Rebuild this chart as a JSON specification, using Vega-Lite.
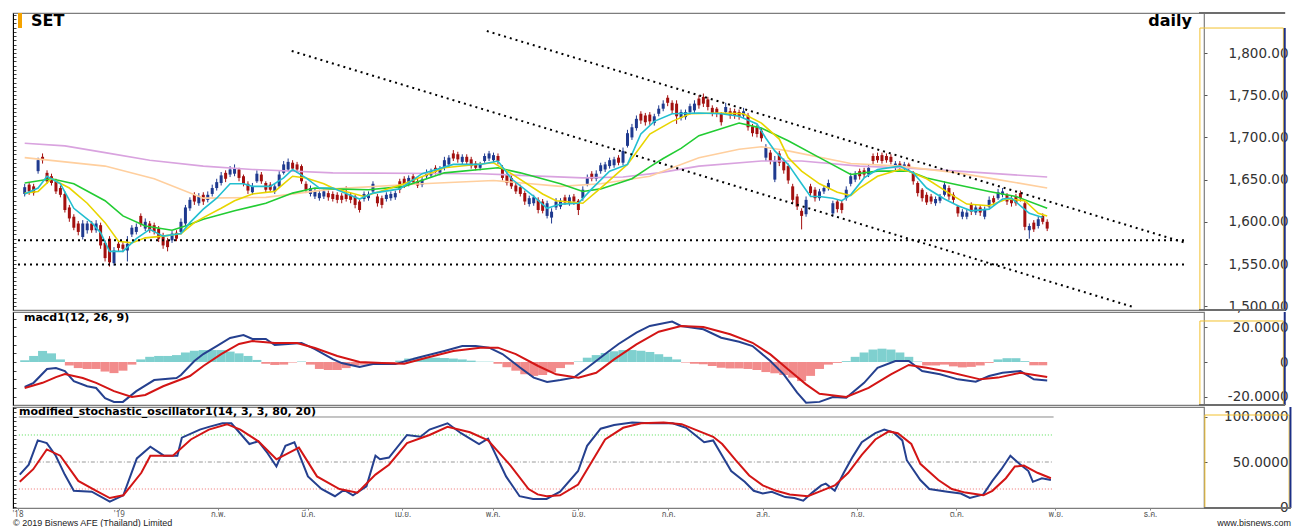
{
"$schema":"https://vega.github.io/schema/vega-lite/v6.json",
"background":"#ffffff",
"padding":{"left":11,"top":11,"right":0,"bottom":0},
"spacing":2,
"bounds":"flush",
"resolve":{"scale":{"color":"independent"}},
"config":{"view":{"stroke":"#7d7d7d","strokeWidth":1.2},"axis":{"grid":false,"labelFont":"DejaVu Sans"}},
"datasets":{
"c":[
{"i":0,"o":1633,"h":1645,"l":1630,"c":1641},{"i":1,"o":1644,"h":1647,"l":1632,"c":1636},{"i":2,"o":1642,"h":1645,"l":1631,"c":1634},{"i":3,"o":1660,"h":1676,"l":1657,"c":1673},{"i":4,"o":1677,"h":1681,"l":1669,"c":1673},{"i":5,"o":1658,"h":1661,"l":1645,"c":1648},{"i":6,"o":1654,"h":1657,"l":1643,"c":1646},{"i":7,"o":1648,"h":1651,"l":1633,"c":1636},{"i":8,"o":1640,"h":1643,"l":1629,"c":1632},{"i":9,"o":1633,"h":1636,"l":1611,"c":1614},
{"i":10,"o":1617,"h":1620,"l":1600,"c":1604},{"i":11,"o":1606,"h":1609,"l":1590,"c":1593},{"i":12,"o":1598,"h":1601,"l":1584,"c":1588},{"i":13,"o":1582,"h":1602,"l":1579,"c":1598},{"i":14,"o":1590,"h":1601,"l":1586,"c":1598},{"i":15,"o":1598,"h":1601,"l":1587,"c":1590},{"i":16,"o":1590,"h":1602,"l":1587,"c":1598},{"i":17,"o":1596,"h":1599,"l":1568,"c":1572},{"i":18,"o":1575,"h":1578,"l":1553,"c":1557},{"i":19,"o":1580,"h":1583,"l":1547,"c":1552},
{"i":20,"o":1551,"h":1570,"l":1548,"c":1566},{"i":21,"o":1574,"h":1577,"l":1565,"c":1569},{"i":22,"o":1573,"h":1576,"l":1564,"c":1568},{"i":23,"o":1566,"h":1583,"l":1553,"c":1574},{"i":24,"o":1585,"h":1596,"l":1582,"c":1593},{"i":25,"o":1588,"h":1598,"l":1585,"c":1594},{"i":26,"o":1607,"h":1610,"l":1594,"c":1597},{"i":27,"o":1592,"h":1604,"l":1589,"c":1600},{"i":28,"o":1598,"h":1601,"l":1587,"c":1590},{"i":29,"o":1596,"h":1599,"l":1585,"c":1588},
{"i":30,"o":1592,"h":1595,"l":1576,"c":1580},{"i":31,"o":1584,"h":1587,"l":1568,"c":1572},{"i":32,"o":1578,"h":1581,"l":1565,"c":1570},{"i":33,"o":1578,"h":1589,"l":1575,"c":1586},{"i":34,"o":1587,"h":1590,"l":1577,"c":1580},{"i":35,"o":1588,"h":1604,"l":1585,"c":1600},{"i":36,"o":1598,"h":1620,"l":1595,"c":1617},{"i":37,"o":1616,"h":1629,"l":1613,"c":1626},{"i":38,"o":1632,"h":1635,"l":1620,"c":1624},{"i":39,"o":1622,"h":1634,"l":1619,"c":1630},
{"i":40,"o":1632,"h":1635,"l":1620,"c":1624},{"i":41,"o":1626,"h":1636,"l":1623,"c":1632},{"i":42,"o":1633,"h":1644,"l":1630,"c":1640},{"i":43,"o":1640,"h":1651,"l":1637,"c":1647},{"i":44,"o":1646,"h":1659,"l":1643,"c":1655},{"i":45,"o":1658,"h":1661,"l":1647,"c":1651},{"i":46,"o":1656,"h":1666,"l":1653,"c":1662},{"i":47,"o":1657,"h":1668,"l":1654,"c":1663},{"i":48,"o":1662,"h":1664,"l":1648,"c":1652},{"i":49,"o":1654,"h":1656,"l":1642,"c":1645},
{"i":50,"o":1645,"h":1648,"l":1633,"c":1637},{"i":51,"o":1635,"h":1646,"l":1632,"c":1642},{"i":52,"o":1648,"h":1661,"l":1646,"c":1657},{"i":53,"o":1656,"h":1659,"l":1645,"c":1648},{"i":54,"o":1646,"h":1648,"l":1635,"c":1638},{"i":55,"o":1644,"h":1647,"l":1635,"c":1638},{"i":56,"o":1636,"h":1645,"l":1633,"c":1642},{"i":57,"o":1642,"h":1660,"l":1640,"c":1656},{"i":58,"o":1658,"h":1672,"l":1656,"c":1668},{"i":59,"o":1662,"h":1675,"l":1660,"c":1671},
{"i":60,"o":1670,"h":1673,"l":1660,"c":1663},{"i":61,"o":1668,"h":1671,"l":1658,"c":1662},{"i":62,"o":1666,"h":1668,"l":1645,"c":1648},{"i":63,"o":1645,"h":1648,"l":1634,"c":1638},{"i":64,"o":1633,"h":1643,"l":1630,"c":1640},{"i":65,"o":1630,"h":1640,"l":1627,"c":1636},{"i":66,"o":1628,"h":1638,"l":1625,"c":1634},{"i":67,"o":1630,"h":1639,"l":1627,"c":1636},{"i":68,"o":1634,"h":1637,"l":1625,"c":1629},{"i":69,"o":1633,"h":1636,"l":1624,"c":1627},
{"i":70,"o":1632,"h":1635,"l":1622,"c":1626},{"i":71,"o":1631,"h":1634,"l":1622,"c":1626},{"i":72,"o":1633,"h":1642,"l":1624,"c":1627},{"i":73,"o":1632,"h":1635,"l":1622,"c":1626},{"i":74,"o":1630,"h":1632,"l":1616,"c":1620},{"i":75,"o":1624,"h":1626,"l":1611,"c":1614},{"i":76,"o":1627,"h":1636,"l":1624,"c":1633},{"i":77,"o":1628,"h":1636,"l":1625,"c":1633},{"i":78,"o":1636,"h":1648,"l":1633,"c":1645},{"i":79,"o":1630,"h":1633,"l":1618,"c":1622},
{"i":80,"o":1628,"h":1631,"l":1616,"c":1620},{"i":81,"o":1627,"h":1635,"l":1624,"c":1632},{"i":82,"o":1628,"h":1636,"l":1625,"c":1633},{"i":83,"o":1629,"h":1637,"l":1626,"c":1634},{"i":84,"o":1648,"h":1651,"l":1634,"c":1638},{"i":85,"o":1651,"h":1654,"l":1640,"c":1643},{"i":86,"o":1645,"h":1655,"l":1642,"c":1652},{"i":87,"o":1654,"h":1657,"l":1644,"c":1647},{"i":88,"o":1648,"h":1651,"l":1640,"c":1643},{"i":89,"o":1644,"h":1653,"l":1641,"c":1650},
{"i":90,"o":1654,"h":1662,"l":1651,"c":1659},{"i":91,"o":1655,"h":1663,"l":1652,"c":1660},{"i":92,"o":1664,"h":1667,"l":1656,"c":1659},{"i":93,"o":1658,"h":1666,"l":1655,"c":1663},{"i":94,"o":1664,"h":1677,"l":1661,"c":1673},{"i":95,"o":1668,"h":1679,"l":1665,"c":1676},{"i":96,"o":1681,"h":1685,"l":1672,"c":1675},{"i":97,"o":1680,"h":1683,"l":1670,"c":1674},{"i":98,"o":1671,"h":1680,"l":1668,"c":1677},{"i":99,"o":1677,"h":1680,"l":1668,"c":1671},
{"i":100,"o":1674,"h":1677,"l":1663,"c":1666},{"i":101,"o":1669,"h":1672,"l":1661,"c":1664},{"i":102,"o":1664,"h":1671,"l":1661,"c":1668},{"i":103,"o":1672,"h":1681,"l":1670,"c":1678},{"i":104,"o":1675,"h":1684,"l":1672,"c":1681},{"i":105,"o":1673,"h":1682,"l":1670,"c":1679},{"i":106,"o":1678,"h":1681,"l":1668,"c":1672},{"i":107,"o":1664,"h":1667,"l":1649,"c":1652},{"i":108,"o":1656,"h":1659,"l":1643,"c":1646},{"i":109,"o":1652,"h":1655,"l":1639,"c":1642},
{"i":110,"o":1643,"h":1646,"l":1633,"c":1636},{"i":111,"o":1641,"h":1644,"l":1630,"c":1633},{"i":112,"o":1634,"h":1637,"l":1620,"c":1624},{"i":113,"o":1621,"h":1631,"l":1618,"c":1628},{"i":114,"o":1622,"h":1632,"l":1619,"c":1629},{"i":115,"o":1626,"h":1629,"l":1610,"c":1614},{"i":116,"o":1624,"h":1627,"l":1610,"c":1613},{"i":117,"o":1607,"h":1625,"l":1604,"c":1622},{"i":118,"o":1605,"h":1616,"l":1598,"c":1612},{"i":119,"o":1617,"h":1628,"l":1614,"c":1624},
{"i":120,"o":1618,"h":1628,"l":1615,"c":1625},{"i":121,"o":1629,"h":1632,"l":1620,"c":1623},{"i":122,"o":1622,"h":1632,"l":1619,"c":1629},{"i":123,"o":1630,"h":1633,"l":1620,"c":1624},{"i":124,"o":1625,"h":1627,"l":1608,"c":1614},{"i":125,"o":1628,"h":1642,"l":1625,"c":1638},{"i":126,"o":1645,"h":1656,"l":1642,"c":1652},{"i":127,"o":1657,"h":1660,"l":1648,"c":1651},{"i":128,"o":1651,"h":1661,"l":1648,"c":1657},{"i":129,"o":1660,"h":1670,"l":1657,"c":1667},
{"i":130,"o":1662,"h":1671,"l":1659,"c":1668},{"i":131,"o":1666,"h":1676,"l":1663,"c":1673},{"i":132,"o":1667,"h":1677,"l":1664,"c":1674},{"i":133,"o":1676,"h":1679,"l":1667,"c":1670},{"i":134,"o":1670,"h":1688,"l":1667,"c":1684},{"i":135,"o":1690,"h":1709,"l":1688,"c":1705},{"i":136,"o":1700,"h":1716,"l":1697,"c":1712},{"i":137,"o":1711,"h":1726,"l":1708,"c":1722},{"i":138,"o":1728,"h":1731,"l":1716,"c":1720},{"i":139,"o":1726,"h":1729,"l":1714,"c":1718},
{"i":140,"o":1727,"h":1730,"l":1715,"c":1719},{"i":141,"o":1717,"h":1728,"l":1714,"c":1725},{"i":142,"o":1728,"h":1738,"l":1725,"c":1734},{"i":143,"o":1734,"h":1744,"l":1731,"c":1740},{"i":144,"o":1747,"h":1750,"l":1737,"c":1741},{"i":145,"o":1741,"h":1744,"l":1728,"c":1732},{"i":146,"o":1740,"h":1744,"l":1716,"c":1725},{"i":147,"o":1723,"h":1733,"l":1720,"c":1730},{"i":148,"o":1724,"h":1733,"l":1721,"c":1730},{"i":149,"o":1730,"h":1740,"l":1727,"c":1737},
{"i":150,"o":1732,"h":1744,"l":1729,"c":1740},{"i":151,"o":1746,"h":1750,"l":1734,"c":1738},{"i":152,"o":1748,"h":1752,"l":1736,"c":1740},{"i":153,"o":1745,"h":1748,"l":1732,"c":1736},{"i":154,"o":1735,"h":1738,"l":1725,"c":1729},{"i":155,"o":1734,"h":1736,"l":1724,"c":1728},{"i":156,"o":1728,"h":1730,"l":1714,"c":1718},{"i":157,"o":1730,"h":1741,"l":1727,"c":1736},{"i":158,"o":1731,"h":1735,"l":1722,"c":1726},{"i":159,"o":1731,"h":1734,"l":1722,"c":1726},
{"i":160,"o":1730,"h":1733,"l":1721,"c":1725},{"i":161,"o":1726,"h":1735,"l":1722,"c":1731},{"i":162,"o":1726,"h":1729,"l":1708,"c":1712},{"i":163,"o":1713,"h":1716,"l":1701,"c":1705},{"i":164,"o":1712,"h":1715,"l":1700,"c":1704},{"i":165,"o":1708,"h":1711,"l":1695,"c":1699},{"i":166,"o":1676,"h":1692,"l":1672,"c":1688},{"i":167,"o":1682,"h":1685,"l":1668,"c":1672},{"i":168,"o":1650,"h":1678,"l":1647,"c":1672},{"i":169,"o":1681,"h":1684,"l":1666,"c":1670},
{"i":170,"o":1672,"h":1675,"l":1657,"c":1661},{"i":171,"o":1666,"h":1669,"l":1645,"c":1649},{"i":172,"o":1642,"h":1645,"l":1622,"c":1626},{"i":173,"o":1630,"h":1633,"l":1614,"c":1618},{"i":174,"o":1613,"h":1616,"l":1591,"c":1607},{"i":175,"o":1609,"h":1630,"l":1606,"c":1626},{"i":176,"o":1642,"h":1645,"l":1630,"c":1634},{"i":177,"o":1638,"h":1641,"l":1624,"c":1628},{"i":178,"o":1628,"h":1639,"l":1625,"c":1636},{"i":179,"o":1636,"h":1643,"l":1633,"c":1640},
{"i":180,"o":1640,"h":1650,"l":1637,"c":1646},{"i":181,"o":1610,"h":1625,"l":1606,"c":1622},{"i":182,"o":1624,"h":1627,"l":1611,"c":1615},{"i":183,"o":1622,"h":1625,"l":1610,"c":1614},{"i":184,"o":1628,"h":1642,"l":1625,"c":1638},{"i":185,"o":1645,"h":1658,"l":1642,"c":1654},{"i":186,"o":1650,"h":1660,"l":1647,"c":1656},{"i":187,"o":1660,"h":1663,"l":1650,"c":1654},{"i":188,"o":1661,"h":1664,"l":1652,"c":1656},{"i":189,"o":1656,"h":1668,"l":1653,"c":1664},
{"i":190,"o":1678,"h":1681,"l":1668,"c":1672},{"i":191,"o":1678,"h":1682,"l":1670,"c":1673},{"i":192,"o":1679,"h":1682,"l":1669,"c":1672},{"i":193,"o":1678,"h":1681,"l":1670,"c":1673},{"i":194,"o":1677,"h":1680,"l":1668,"c":1671},{"i":195,"o":1664,"h":1672,"l":1661,"c":1669},{"i":196,"o":1669,"h":1672,"l":1661,"c":1664},{"i":197,"o":1664,"h":1671,"l":1661,"c":1668},{"i":198,"o":1668,"h":1670,"l":1660,"c":1664},{"i":199,"o":1658,"h":1660,"l":1644,"c":1648},
{"i":200,"o":1646,"h":1648,"l":1630,"c":1634},{"i":201,"o":1638,"h":1640,"l":1624,"c":1628},{"i":202,"o":1632,"h":1635,"l":1620,"c":1623},{"i":203,"o":1630,"h":1633,"l":1621,"c":1624},{"i":204,"o":1622,"h":1630,"l":1619,"c":1627},{"i":205,"o":1625,"h":1633,"l":1622,"c":1630},{"i":206,"o":1632,"h":1648,"l":1630,"c":1644},{"i":207,"o":1640,"h":1643,"l":1626,"c":1630},{"i":208,"o":1632,"h":1635,"l":1622,"c":1626},{"i":209,"o":1618,"h":1620,"l":1606,"c":1610},
{"i":210,"o":1606,"h":1615,"l":1603,"c":1612},{"i":211,"o":1606,"h":1614,"l":1603,"c":1611},{"i":212,"o":1620,"h":1623,"l":1608,"c":1612},{"i":213,"o":1611,"h":1620,"l":1608,"c":1617},{"i":214,"o":1617,"h":1620,"l":1607,"c":1611},{"i":215,"o":1606,"h":1618,"l":1603,"c":1614},{"i":216,"o":1618,"h":1630,"l":1616,"c":1626},{"i":217,"o":1628,"h":1631,"l":1620,"c":1623},{"i":218,"o":1628,"h":1639,"l":1626,"c":1635},{"i":219,"o":1632,"h":1640,"l":1629,"c":1636},
{"i":220,"o":1632,"h":1634,"l":1620,"c":1624},{"i":221,"o":1628,"h":1631,"l":1618,"c":1622},{"i":222,"o":1630,"h":1633,"l":1619,"c":1622},{"i":223,"o":1634,"h":1637,"l":1624,"c":1628},{"i":224,"o":1622,"h":1625,"l":1590,"c":1594},{"i":225,"o":1590,"h":1598,"l":1580,"c":1595},{"i":226,"o":1599,"h":1602,"l":1588,"c":1591},{"i":227,"o":1595,"h":1606,"l":1592,"c":1603},{"i":228,"o":1607,"h":1610,"l":1597,"c":1600},{"i":229,"o":1600,"h":1603,"l":1589,"c":1592}
],
"ma":[
{"s":"p","i":0,"v":1693},{"s":"p","i":9,"v":1690},{"s":"p","i":18,"v":1682},{"s":"p","i":28,"v":1673},{"s":"p","i":40,"v":1666},{"s":"p","i":51,"v":1662},{"s":"p","i":69,"v":1658},{"s":"p","i":102,"v":1657},{"s":"p","i":125,"v":1652},{"s":"p","i":134,"v":1653},{"s":"p","i":142,"v":1658},{"s":"p","i":151,"v":1666},{"s":"p","i":165,"v":1672},{"s":"p","i":174,"v":1672},{"s":"p","i":187,"v":1666},{"s":"p","i":196,"v":1664},{"s":"p","i":209,"v":1660},{"s":"p","i":229,"v":1653},
{"s":"o","i":0,"v":1676},{"s":"o","i":18,"v":1666},{"s":"o","i":29,"v":1651},{"s":"o","i":40,"v":1628},{"s":"o","i":54,"v":1629},{"s":"o","i":69,"v":1639},{"s":"o","i":89,"v":1645},{"s":"o","i":105,"v":1649},{"s":"o","i":120,"v":1642},{"s":"o","i":129,"v":1645},{"s":"o","i":140,"v":1654},{"s":"o","i":151,"v":1676},{"s":"o","i":160,"v":1686},{"s":"o","i":165,"v":1689},{"s":"o","i":171,"v":1684},{"s":"o","i":185,"v":1669},{"s":"o","i":196,"v":1666},{"s":"o","i":209,"v":1658},{"s":"o","i":218,"v":1650},{"s":"o","i":229,"v":1640},
{"s":"g","i":0,"v":1646},{"s":"g","i":6,"v":1651},{"s":"g","i":11,"v":1645},{"s":"g","i":18,"v":1625},{"s":"g","i":22,"v":1607},{"s":"g","i":27,"v":1595},{"s":"g","i":33,"v":1590},{"s":"g","i":36,"v":1595},{"s":"g","i":40,"v":1603},{"s":"g","i":47,"v":1613},{"s":"g","i":54,"v":1622},{"s":"g","i":60,"v":1634},{"s":"g","i":65,"v":1640},{"s":"g","i":69,"v":1639},{"s":"g","i":77,"v":1638},{"s":"g","i":85,"v":1642},{"s":"g","i":94,"v":1658},{"s":"g","i":106,"v":1664},{"s":"g","i":111,"v":1658},{"s":"g","i":120,"v":1645},{"s":"g","i":125,"v":1636},{"s":"g","i":129,"v":1639},{"s":"g","i":136,"v":1651},{"s":"g","i":140,"v":1665},{"s":"g","i":143,"v":1675},{"s":"g","i":147,"v":1687},{"s":"g","i":151,"v":1702},{"s":"g","i":160,"v":1717},{"s":"g","i":165,"v":1711},{"s":"g","i":171,"v":1696},{"s":"g","i":178,"v":1676},{"s":"g","i":185,"v":1656},{"s":"g","i":191,"v":1660},{"s":"g","i":198,"v":1660},{"s":"g","i":202,"v":1652},{"s":"g","i":207,"v":1646},{"s":"g","i":216,"v":1636},{"s":"g","i":222,"v":1630},{"s":"g","i":229,"v":1616},
{"s":"y","i":0,"v":1634},{"s":"y","i":3,"v":1636},{"s":"y","i":6,"v":1651},{"s":"y","i":10,"v":1640},{"s":"y","i":14,"v":1622},{"s":"y","i":18,"v":1599},{"s":"y","i":21,"v":1577},{"s":"y","i":24,"v":1575},{"s":"y","i":27,"v":1581},{"s":"y","i":31,"v":1583},{"s":"y","i":35,"v":1586},{"s":"y","i":38,"v":1599},{"s":"y","i":40,"v":1605},{"s":"y","i":44,"v":1616},{"s":"y","i":47,"v":1625},{"s":"y","i":51,"v":1633},{"s":"y","i":56,"v":1636},{"s":"y","i":60,"v":1654},{"s":"y","i":63,"v":1652},{"s":"y","i":67,"v":1645},{"s":"y","i":69,"v":1640},{"s":"y","i":76,"v":1630},{"s":"y","i":85,"v":1645},{"s":"y","i":94,"v":1664},{"s":"y","i":105,"v":1670},{"s":"y","i":109,"v":1657},{"s":"y","i":116,"v":1633},{"s":"y","i":119,"v":1625},{"s":"y","i":125,"v":1622},{"s":"y","i":129,"v":1640},{"s":"y","i":135,"v":1668},{"s":"y","i":140,"v":1704},{"s":"y","i":145,"v":1719},{"s":"y","i":149,"v":1728},{"s":"y","i":156,"v":1729},{"s":"y","i":161,"v":1728},{"s":"y","i":165,"v":1717},{"s":"y","i":169,"v":1698},{"s":"y","i":171,"v":1676},{"s":"y","i":174,"v":1660},{"s":"y","i":178,"v":1645},{"s":"y","i":182,"v":1635},{"s":"y","i":185,"v":1631},{"s":"y","i":187,"v":1640},{"s":"y","i":191,"v":1654},{"s":"y","i":196,"v":1662},{"s":"y","i":198,"v":1660},{"s":"y","i":202,"v":1651},{"s":"y","i":207,"v":1634},{"s":"y","i":211,"v":1621},{"s":"y","i":216,"v":1619},{"s":"y","i":220,"v":1627},{"s":"y","i":224,"v":1625},{"s":"y","i":227,"v":1610},{"s":"y","i":229,"v":1607},
{"s":"c","i":0,"v":1633},{"s":"c","i":3,"v":1640},{"s":"c","i":5,"v":1654},{"s":"c","i":8,"v":1645},{"s":"c","i":11,"v":1616},{"s":"c","i":15,"v":1599},{"s":"c","i":17,"v":1587},{"s":"c","i":19,"v":1565},{"s":"c","i":22,"v":1565},{"s":"c","i":25,"v":1580},{"s":"c","i":28,"v":1591},{"s":"c","i":31,"v":1583},{"s":"c","i":35,"v":1586},{"s":"c","i":37,"v":1599},{"s":"c","i":40,"v":1615},{"s":"c","i":43,"v":1628},{"s":"c","i":46,"v":1645},{"s":"c","i":49,"v":1645},{"s":"c","i":51,"v":1642},{"s":"c","i":55,"v":1642},{"s":"c","i":58,"v":1652},{"s":"c","i":60,"v":1662},{"s":"c","i":63,"v":1652},{"s":"c","i":66,"v":1640},{"s":"c","i":69,"v":1640},{"s":"c","i":75,"v":1627},{"s":"c","i":78,"v":1634},{"s":"c","i":84,"v":1639},{"s":"c","i":89,"v":1657},{"s":"c","i":96,"v":1668},{"s":"c","i":102,"v":1668},{"s":"c","i":106,"v":1672},{"s":"c","i":109,"v":1651},{"s":"c","i":114,"v":1630},{"s":"c","i":117,"v":1616},{"s":"c","i":120,"v":1621},{"s":"c","i":124,"v":1622},{"s":"c","i":127,"v":1639},{"s":"c","i":131,"v":1660},{"s":"c","i":135,"v":1668},{"s":"c","i":138,"v":1704},{"s":"c","i":141,"v":1719},{"s":"c","i":145,"v":1728},{"s":"c","i":151,"v":1729},{"s":"c","i":156,"v":1728},{"s":"c","i":160,"v":1725},{"s":"c","i":164,"v":1716},{"s":"c","i":166,"v":1699},{"s":"c","i":168,"v":1684},{"s":"c","i":171,"v":1668},{"s":"c","i":174,"v":1645},{"s":"c","i":176,"v":1630},{"s":"c","i":178,"v":1630},{"s":"c","i":181,"v":1628},{"s":"c","i":183,"v":1625},{"s":"c","i":185,"v":1632},{"s":"c","i":188,"v":1652},{"s":"c","i":191,"v":1662},{"s":"c","i":196,"v":1666},{"s":"c","i":199,"v":1658},{"s":"c","i":202,"v":1640},{"s":"c","i":206,"v":1627},{"s":"c","i":209,"v":1619},{"s":"c","i":212,"v":1613},{"s":"c","i":216,"v":1615},{"s":"c","i":219,"v":1627},{"s":"c","i":221,"v":1628},{"s":"c","i":225,"v":1610},{"s":"c","i":228,"v":1605}
],
"mc":[
{"s":"m","i":0,"v":-14.4},{"s":"m","i":2,"v":-12},{"s":"m","i":5,"v":-4},{"s":"m","i":7,"v":-3.5},{"s":"m","i":9,"v":-5.2},{"s":"m","i":11,"v":-11},{"s":"m","i":14,"v":-14},{"s":"m","i":16,"v":-15},{"s":"m","i":18,"v":-20.8},{"s":"m","i":20,"v":-23},{"s":"m","i":22,"v":-23},{"s":"m","i":25,"v":-16.8},{"s":"m","i":29,"v":-10.4},{"s":"m","i":34,"v":-9.2},{"s":"m","i":35,"v":-7.5},{"s":"m","i":38,"v":0.6},{"s":"m","i":40,"v":4.6},{"s":"m","i":43,"v":9.2},{"s":"m","i":46,"v":13.9},{"s":"m","i":49,"v":15.6},{"s":"m","i":51,"v":13.3},{"s":"m","i":54,"v":13.3},{"s":"m","i":56,"v":9.8},{"s":"m","i":59,"v":10.4},{"s":"m","i":62,"v":11},{"s":"m","i":65,"v":7.5},{"s":"m","i":69,"v":1.7},{"s":"m","i":71,"v":-0.6},{"s":"m","i":75,"v":-2.9},{"s":"m","i":78,"v":-1.2},{"s":"m","i":83,"v":-1.2},{"s":"m","i":88,"v":2.5},{"s":"m","i":94,"v":6.4},{"s":"m","i":98,"v":9.2},{"s":"m","i":101,"v":9.2},{"s":"m","i":104,"v":8.3},{"s":"m","i":107,"v":4.6},{"s":"m","i":111,"v":-3.3},{"s":"m","i":114,"v":-9},{"s":"m","i":117,"v":-11.5},{"s":"m","i":120,"v":-10.4},{"s":"m","i":123,"v":-9},{"s":"m","i":126,"v":-3.3},{"s":"m","i":130,"v":4.6},{"s":"m","i":133,"v":10.4},{"s":"m","i":137,"v":17},{"s":"m","i":140,"v":20.8},{"s":"m","i":145,"v":23.3},{"s":"m","i":147,"v":20.8},{"s":"m","i":152,"v":18.9},{"s":"m","i":156,"v":14},{"s":"m","i":160,"v":11.7},{"s":"m","i":163,"v":9.2},{"s":"m","i":167,"v":0.6},{"s":"m","i":170,"v":-7.1},{"s":"m","i":173,"v":-17.7},{"s":"m","i":175,"v":-23.5},{"s":"m","i":178,"v":-23},{"s":"m","i":181,"v":-20.2},{"s":"m","i":184,"v":-20.6},{"s":"m","i":188,"v":-12},{"s":"m","i":191,"v":-3.3},{"s":"m","i":195,"v":0.6},{"s":"m","i":198,"v":0.6},{"s":"m","i":201,"v":-5.2},{"s":"m","i":205,"v":-7.1},{"s":"m","i":209,"v":-10},{"s":"m","i":213,"v":-11.4},{"s":"m","i":216,"v":-8.1},{"s":"m","i":219,"v":-6.2},{"s":"m","i":223,"v":-5.2},{"s":"m","i":226,"v":-10},{"s":"m","i":229,"v":-10.6},
{"s":"sg","i":0,"v":-15},{"s":"sg","i":4,"v":-12},{"s":"sg","i":7,"v":-8.7},{"s":"sg","i":9,"v":-6.9},{"s":"sg","i":13,"v":-9.2},{"s":"sg","i":16,"v":-12},{"s":"sg","i":20,"v":-16.8},{"s":"sg","i":24,"v":-20.2},{"s":"sg","i":27,"v":-19},{"s":"sg","i":31,"v":-14},{"s":"sg","i":37,"v":-8.1},{"s":"sg","i":40,"v":-2.3},{"s":"sg","i":44,"v":4.6},{"s":"sg","i":48,"v":10.4},{"s":"sg","i":51,"v":12.1},{"s":"sg","i":56,"v":11},{"s":"sg","i":61,"v":11},{"s":"sg","i":65,"v":8.1},{"s":"sg","i":70,"v":3.5},{"s":"sg","i":75,"v":0},{"s":"sg","i":80,"v":-0.6},{"s":"sg","i":85,"v":-1},{"s":"sg","i":90,"v":2.5},{"s":"sg","i":96,"v":6.4},{"s":"sg","i":102,"v":8.3},{"s":"sg","i":106,"v":8.3},{"s":"sg","i":110,"v":4.6},{"s":"sg","i":115,"v":-2.3},{"s":"sg","i":119,"v":-7.1},{"s":"sg","i":124,"v":-9},{"s":"sg","i":128,"v":-6.2},{"s":"sg","i":132,"v":1.5},{"s":"sg","i":137,"v":10.2},{"s":"sg","i":142,"v":17.5},{"s":"sg","i":147,"v":20.8},{"s":"sg","i":152,"v":20.2},{"s":"sg","i":158,"v":16},{"s":"sg","i":163,"v":11.1},{"s":"sg","i":167,"v":4.4},{"s":"sg","i":171,"v":-4.3},{"s":"sg","i":175,"v":-12.9},{"s":"sg","i":178,"v":-18.3},{"s":"sg","i":184,"v":-20.2},{"s":"sg","i":189,"v":-14.9},{"s":"sg","i":194,"v":-7.1},{"s":"sg","i":198,"v":-1.7},{"s":"sg","i":202,"v":-3.3},{"s":"sg","i":207,"v":-5.8},{"s":"sg","i":214,"v":-10},{"s":"sg","i":218,"v":-9},{"s":"sg","i":223,"v":-6.2},{"s":"sg","i":229,"v":-8.7}
],
"hs":[
{"i":0,"h":1},{"i":2,"h":3.5},{"i":4,"h":6.4},{"i":6,"h":5},{"i":8,"h":1.5},{"i":10,"h":-2},{"i":12,"h":-3.5},{"i":14,"h":-4},{"i":16,"h":-4},{"i":18,"h":-5.5},{"i":20,"h":-6.4},{"i":22,"h":-5},{"i":24,"h":-1.5},{"i":26,"h":1.5},{"i":28,"h":3},{"i":30,"h":3.5},{"i":32,"h":3.5},{"i":34,"h":4},{"i":36,"h":5.5},{"i":38,"h":6.5},{"i":40,"h":6.9},{"i":42,"h":6.9},{"i":44,"h":6.9},{"i":46,"h":6},{"i":48,"h":5},{"i":50,"h":3.5},{"i":52,"h":1.2},{"i":54,"h":-1},{"i":56,"h":-1.7},{"i":58,"h":-1.5},{"i":60,"h":-0.3},{"i":62,"h":0.3},{"i":64,"h":-1.5},{"i":66,"h":-4},{"i":68,"h":-4.6},{"i":70,"h":-4.6},{"i":72,"h":-3.5},{"i":74,"h":-2},{"i":76,"h":-1.5},{"i":78,"h":-1.2},{"i":80,"h":-1},{"i":82,"h":-0.8},{"i":84,"h":0.8},{"i":86,"h":2},{"i":88,"h":2.5},{"i":90,"h":2.5},{"i":92,"h":2.5},{"i":94,"h":2.3},{"i":96,"h":2},{"i":98,"h":1.5},{"i":100,"h":0.8},{"i":102,"h":0.2},{"i":104,"h":0.2},{"i":106,"h":-1},{"i":108,"h":-3},{"i":110,"h":-5},{"i":112,"h":-7},{"i":114,"h":-8},{"i":116,"h":-7.5},{"i":118,"h":-6},{"i":120,"h":-3.5},{"i":122,"h":-1.5},{"i":124,"h":0.3},{"i":126,"h":2.5},{"i":128,"h":4},{"i":130,"h":5.2},{"i":132,"h":6.2},{"i":134,"h":6.9},{"i":136,"h":6.9},{"i":138,"h":6.5},{"i":140,"h":5.8},{"i":142,"h":4.5},{"i":144,"h":3},{"i":146,"h":1.5},{"i":148,"h":-0.3},{"i":150,"h":-1},{"i":152,"h":-1.3},{"i":154,"h":-2.3},{"i":156,"h":-3.3},{"i":158,"h":-3.7},{"i":160,"h":-3.7},{"i":162,"h":-4},{"i":164,"h":-4.6},{"i":166,"h":-5.8},{"i":168,"h":-6.5},{"i":170,"h":-7.5},{"i":172,"h":-9},{"i":174,"h":-11},{"i":176,"h":-8},{"i":178,"h":-4},{"i":180,"h":-1.5},{"i":182,"h":-0.5},{"i":184,"h":0.5},{"i":186,"h":3},{"i":188,"h":5.5},{"i":190,"h":7.2},{"i":192,"h":7.7},{"i":194,"h":7.2},{"i":196,"h":5.5},{"i":198,"h":3},{"i":200,"h":0.3},{"i":202,"h":-2},{"i":204,"h":-2},{"i":206,"h":-1.5},{"i":208,"h":-2.5},{"i":210,"h":-3.1},{"i":212,"h":-2.8},{"i":214,"h":-2},{"i":216,"h":-0.5},{"i":218,"h":1.5},{"i":220,"h":2.2},{"i":222,"h":2.2},{"i":224,"h":0.5},{"i":226,"h":-1.9},{"i":228,"h":-1.9}
],
"st":[
{"s":"k","i":0,"v":36},{"s":"k","i":2,"v":47},{"s":"k","i":4,"v":74},{"s":"k","i":6,"v":71},{"s":"k","i":8,"v":57},{"s":"k","i":10,"v":36},{"s":"k","i":12,"v":18},{"s":"k","i":16,"v":17},{"s":"k","i":20,"v":6},{"s":"k","i":23,"v":13},{"s":"k","i":26,"v":54},{"s":"k","i":29,"v":67},{"s":"k","i":32,"v":57},{"s":"k","i":35,"v":57},{"s":"k","i":36,"v":77},{"s":"k","i":40,"v":86},{"s":"k","i":42,"v":89},{"s":"k","i":45,"v":93},{"s":"k","i":47,"v":93},{"s":"k","i":51,"v":70},{"s":"k","i":53,"v":73},{"s":"k","i":55,"v":60},{"s":"k","i":57,"v":45},{"s":"k","i":59,"v":68},{"s":"k","i":61,"v":72},{"s":"k","i":64,"v":34},{"s":"k","i":67,"v":20},{"s":"k","i":70,"v":12},{"s":"k","i":72,"v":19},{"s":"k","i":74,"v":13},{"s":"k","i":77,"v":23},{"s":"k","i":79,"v":57},{"s":"k","i":80,"v":53},{"s":"k","i":82,"v":55},{"s":"k","i":86,"v":80},{"s":"k","i":89,"v":78},{"s":"k","i":91,"v":86},{"s":"k","i":95,"v":93},{"s":"k","i":98,"v":82},{"s":"k","i":102,"v":70},{"s":"k","i":104,"v":76},{"s":"k","i":108,"v":34},{"s":"k","i":111,"v":12},{"s":"k","i":114,"v":9},{"s":"k","i":117,"v":9},{"s":"k","i":120,"v":17},{"s":"k","i":124,"v":40},{"s":"k","i":126,"v":68},{"s":"k","i":129,"v":87},{"s":"k","i":132,"v":91},{"s":"k","i":136,"v":94},{"s":"k","i":140,"v":93},{"s":"k","i":145,"v":93},{"s":"k","i":148,"v":88},{"s":"k","i":150,"v":80},{"s":"k","i":152,"v":72},{"s":"k","i":154,"v":74},{"s":"k","i":156,"v":57},{"s":"k","i":158,"v":40},{"s":"k","i":161,"v":28},{"s":"k","i":163,"v":18},{"s":"k","i":165,"v":15},{"s":"k","i":167,"v":17},{"s":"k","i":170,"v":11},{"s":"k","i":172,"v":10},{"s":"k","i":174,"v":7},{"s":"k","i":176,"v":16},{"s":"k","i":178,"v":24},{"s":"k","i":179,"v":26},{"s":"k","i":181,"v":18},{"s":"k","i":183,"v":38},{"s":"k","i":185,"v":56},{"s":"k","i":187,"v":72},{"s":"k","i":190,"v":82},{"s":"k","i":192,"v":86},{"s":"k","i":194,"v":83},{"s":"k","i":196,"v":74},{"s":"k","i":197,"v":52},{"s":"k","i":200,"v":30},{"s":"k","i":202,"v":20},{"s":"k","i":206,"v":17},{"s":"k","i":209,"v":15},{"s":"k","i":211,"v":10},{"s":"k","i":214,"v":14},{"s":"k","i":216,"v":29},{"s":"k","i":218,"v":42},{"s":"k","i":220,"v":57},{"s":"k","i":222,"v":48},{"s":"k","i":224,"v":40},{"s":"k","i":225,"v":28},{"s":"k","i":227,"v":32},{"s":"k","i":229,"v":30},
{"s":"d","i":0,"v":28},{"s":"d","i":3,"v":42},{"s":"d","i":6,"v":64},{"s":"d","i":9,"v":57},{"s":"d","i":13,"v":29},{"s":"d","i":17,"v":18},{"s":"d","i":20,"v":10},{"s":"d","i":23,"v":13},{"s":"d","i":27,"v":38},{"s":"d","i":29,"v":57},{"s":"d","i":34,"v":57},{"s":"d","i":38,"v":75},{"s":"d","i":42,"v":86},{"s":"d","i":46,"v":92},{"s":"d","i":49,"v":86},{"s":"d","i":53,"v":73},{"s":"d","i":57,"v":53},{"s":"d","i":62,"v":66},{"s":"d","i":66,"v":34},{"s":"d","i":71,"v":20},{"s":"d","i":75,"v":16},{"s":"d","i":79,"v":36},{"s":"d","i":82,"v":47},{"s":"d","i":86,"v":71},{"s":"d","i":91,"v":80},{"s":"d","i":95,"v":89},{"s":"d","i":100,"v":83},{"s":"d","i":104,"v":74},{"s":"d","i":109,"v":46},{"s":"d","i":113,"v":20},{"s":"d","i":115,"v":14},{"s":"d","i":117,"v":12},{"s":"d","i":120,"v":13},{"s":"d","i":124,"v":25},{"s":"d","i":127,"v":50},{"s":"d","i":130,"v":75},{"s":"d","i":134,"v":88},{"s":"d","i":138,"v":93},{"s":"d","i":143,"v":94},{"s":"d","i":147,"v":92},{"s":"d","i":150,"v":86},{"s":"d","i":154,"v":78},{"s":"d","i":156,"v":70},{"s":"d","i":159,"v":52},{"s":"d","i":162,"v":35},{"s":"d","i":165,"v":24},{"s":"d","i":168,"v":18},{"s":"d","i":171,"v":14},{"s":"d","i":175,"v":12},{"s":"d","i":178,"v":18},{"s":"d","i":181,"v":24},{"s":"d","i":184,"v":38},{"s":"d","i":187,"v":58},{"s":"d","i":190,"v":75},{"s":"d","i":193,"v":84},{"s":"d","i":195,"v":82},{"s":"d","i":198,"v":70},{"s":"d","i":200,"v":48},{"s":"d","i":204,"v":30},{"s":"d","i":207,"v":20},{"s":"d","i":210,"v":16},{"s":"d","i":214,"v":13},{"s":"d","i":216,"v":18},{"s":"d","i":219,"v":32},{"s":"d","i":221,"v":45},{"s":"d","i":223,"v":46},{"s":"d","i":226,"v":38},{"s":"d","i":229,"v":32}
]
},
"vconcat":[
{
"width":1191,"height":297,
"layer":[
{"data":{"values":[{"k":1}]},"mark":{"type":"rect","fill":"transparent","stroke":"#f2c12e","strokeWidth":1},
 "encoding":{"x":{"datum":263.2,"type":"quantitative","scale":{"domain":[-1.5,263],"nice":false,"zero":false},"axis":null},"x2":{"datum":281.9},
 "y":{"datum":1829.6,"type":"quantitative","scale":{"domain":[1495.5,1847.4],"nice":false,"zero":false},"axis":null},"y2":{"datum":1495.5}}},
{"data":{"values":[{"k":1}]},"mark":{"type":"rule","color":"#1c2f86","strokeWidth":2},
 "encoding":{"x":{"datum":282.2,"type":"quantitative","axis":null},"y":{"datum":1829.6,"type":"quantitative","axis":null},"y2":{"datum":1495.5}}},
{"data":{"values":[{"p":1847.4},{"p":1495.5}]},"mark":{"type":"rule","color":"#6d6d6d","strokeWidth":2},
 "encoding":{"x":{"datum":263,"type":"quantitative","axis":null},"x2":{"datum":282.3},"y":{"field":"p","type":"quantitative","axis":null}}},
{"data":{"values":[{"k":1}]},"mark":{"type":"rect","color":"#f5a300"},
 "encoding":{"x":{"datum":-1.5,"type":"quantitative","axis":null},"x2":{"datum":-0.6},"y":{"datum":1847.4,"type":"quantitative","axis":null},"y2":{"datum":1829.6}}},
{"data":{"name":"c"},"mark":{"type":"rule","strokeWidth":1},
 "encoding":{"x":{"field":"i","type":"quantitative","axis":null},
 "y":{"field":"l","type":"quantitative","axis":{"orient":"right","values":[1500,1550,1600,1650,1700,1750,1800],"format":",.2f","labelAlign":"right","labelPadding":81,"tickSize":3,"domain":false,"labelFontSize":13.5,"labelColor":"#333333","tickColor":"#555555","title":null}},
 "y2":{"field":"h"},
 "color":{"condition":{"test":"datum.c >= datum.o","value":"#1f3a8f"},"value":"#a3100f"}}},
{"data":{"name":"c"},"mark":{"type":"bar","size":3},
 "encoding":{"x":{"field":"i","type":"quantitative","axis":null},"y":{"field":"o","type":"quantitative","axis":null},"y2":{"field":"c"},
 "color":{"condition":{"test":"datum.c >= datum.o","value":"#1f3a8f"},"value":"#a3100f"}}},
{"data":{"name":"ma"},"mark":{"type":"line","strokeWidth":1.6},
 "encoding":{"x":{"field":"i","type":"quantitative","axis":null},
 "y":{"field":"v","type":"quantitative","axis":{"orient":"left","tickCount":70,"labels":false,"tickSize":-3,"domainColor":"#000000","tickColor":"#444444","title":null}},
 "color":{"field":"s","type":"nominal","scale":{"domain":["p","o","g","y","c"],"range":["#d9a3df","#ffcf9e","#22cc33","#e8d500","#22bfd0"]},"legend":null}}},
{"data":{"values":[{"p":1578},{"p":1549.5}]},"mark":{"type":"rule","color":"#000000","strokeWidth":2,"strokeDash":[2,4]},
 "encoding":{"x":{"datum":-1.5,"type":"quantitative","axis":null},"x2":{"datum":260.1},"y":{"field":"p","type":"quantitative","axis":null}}},
{"data":{"values":[{"i1":103.5,"p1":1826,"i2":260.1,"p2":1574.9},{"i1":59.8,"p1":1802.4,"i2":248.3,"p2":1499}]},"mark":{"type":"rule","color":"#000000","strokeWidth":2,"strokeDash":[2,4]},
 "encoding":{"x":{"field":"i1","type":"quantitative","axis":null},"x2":{"field":"i2"},"y":{"field":"p1","type":"quantitative","axis":null},"y2":{"field":"p2"}}},
{"data":{"values":[{"t":"SET"}]},"mark":{"type":"text","align":"left","baseline":"alphabetic","fontSize":16,"fontWeight":"bold","font":"DejaVu Sans","color":"#000000"},
 "encoding":{"x":{"datum":1.4,"type":"quantitative","axis":null},"y":{"datum":1832,"type":"quantitative","axis":null},"text":{"field":"t"}}},
{"data":{"values":[{"t":"daily"}]},"mark":{"type":"text","align":"right","baseline":"alphabetic","fontSize":16,"fontWeight":"bold","font":"DejaVu Sans","color":"#000000"},
 "encoding":{"x":{"datum":261.4,"type":"quantitative","axis":null},"y":{"datum":1832,"type":"quantitative","axis":null},"text":{"field":"t"}}}
]
},
{
"width":1191,"height":93,
"layer":[
{"data":{"values":[{"k":1}]},"mark":{"type":"rect","fill":"transparent","stroke":"#f2c12e","strokeWidth":1},
 "encoding":{"x":{"datum":263.2,"type":"quantitative","scale":{"domain":[-1.5,263],"nice":false,"zero":false},"axis":null},"x2":{"datum":281.9},
 "y":{"datum":23.67,"type":"quantitative","scale":{"domain":[-24.8,28.86],"nice":false,"zero":false},"axis":null},"y2":{"datum":-24.8}}},
{"data":{"values":[{"k":1}]},"mark":{"type":"rule","color":"#1c2f86","strokeWidth":2},
 "encoding":{"x":{"datum":282.2,"type":"quantitative","axis":null},"y":{"datum":28.86,"type":"quantitative","axis":null},"y2":{"datum":-24.8}}},
{"data":{"values":[{"p":-24.8}]},"mark":{"type":"rule","color":"#6d6d6d","strokeWidth":2},
 "encoding":{"x":{"datum":263,"type":"quantitative","axis":null},"x2":{"datum":282.3},"y":{"field":"p","type":"quantitative","axis":null}}},
{"data":{"name":"hs"},"mark":{"type":"bar","size":9},
 "encoding":{"x":{"field":"i","type":"quantitative","axis":null},
 "y":{"field":"h","type":"quantitative","axis":{"orient":"left","tickCount":12,"labels":false,"tickSize":-3,"domainColor":"#000000","tickColor":"#444444","title":null}},
 "y2":{"datum":0},
 "color":{"condition":{"test":"datum.h >= 0","value":"#7fd0cf"},"value":"#f28b8b"}}},
{"data":{"name":"mc"},"mark":{"type":"line","strokeWidth":2},
 "encoding":{"x":{"field":"i","type":"quantitative","axis":null},
 "y":{"field":"v","type":"quantitative","axis":{"orient":"right","values":[-20,0,20],"labelExpr":"datum.value == 0 ? '0' : replace(format(datum.value, '.4f'), '−', '-')","labelAlign":"right","labelPadding":81,"tickSize":3,"domain":false,"labelFontSize":13.5,"labelColor":"#333333","tickColor":"#555555","title":null}},
 "color":{"field":"s","type":"nominal","scale":{"domain":["sg","m"],"range":["#d31515","#25408f"]},"legend":null}}},
{"data":{"values":[{"t":"macd1(12, 26, 9)"}]},"mark":{"type":"text","align":"left","baseline":"alphabetic","fontSize":11,"fontWeight":"bold","font":"DejaVu Sans","color":"#000000"},
 "encoding":{"x":{"datum":-0.17,"type":"quantitative","axis":null},"y":{"datum":23.67,"type":"quantitative","axis":null},"text":{"field":"t"}}}
]
},
{
"width":1191,"height":101,
"resolve":{"axis":{"x":"independent","y":"independent"}},
"layer":[
{"data":{"values":[{"k":1}]},"mark":{"type":"rect","fill":"transparent","stroke":"#f2c12e","strokeWidth":1},
 "encoding":{"x":{"datum":263.2,"type":"quantitative","scale":{"domain":[-1.5,263],"nice":false,"zero":false},"axis":null},"x2":{"datum":281.9},
 "y":{"datum":102.2,"type":"quantitative","scale":{"domain":[-1.1,111.1],"nice":false,"zero":false},"axis":null},"y2":{"datum":-1.1}}},
{"data":{"values":[{"k":1}]},"mark":{"type":"rule","color":"#1c2f86","strokeWidth":2},
 "encoding":{"x":{"datum":282.2,"type":"quantitative","axis":null},"y":{"datum":111.1,"type":"quantitative","axis":null},"y2":{"datum":-1.1}}},
{"data":{"values":[{"p":-1.1}]},"mark":{"type":"rule","color":"#6d6d6d","strokeWidth":2},
 "encoding":{"x":{"datum":263,"type":"quantitative","axis":null},"x2":{"datum":282.3},"y":{"field":"p","type":"quantitative","axis":null}}},
{"data":{"values":[{"lv":100}]},"mark":{"type":"rule","color":"#8a8a8a","strokeWidth":1},
 "encoding":{"x":{"datum":-0.2,"type":"quantitative","axis":null},"x2":{"datum":229.6},"y":{"field":"lv","type":"quantitative","axis":null}}},
{"data":{"values":[{"lv":80}]},"mark":{"type":"rule","color":"#55dd55","strokeWidth":1,"strokeDash":[1,2]},
 "encoding":{"x":{"datum":-0.2,"type":"quantitative","axis":null},"x2":{"datum":229.6},"y":{"field":"lv","type":"quantitative","axis":null}}},
{"data":{"values":[{"lv":50}]},"mark":{"type":"rule","color":"#9a9a9a","strokeWidth":1,"strokeDash":[4,2,1,2]},
 "encoding":{"x":{"datum":-0.2,"type":"quantitative","axis":null},"x2":{"datum":229.6},"y":{"field":"lv","type":"quantitative","axis":null}}},
{"data":{"values":[{"lv":20}]},"mark":{"type":"rule","color":"#ee6f6f","strokeWidth":1,"strokeDash":[1,2]},
 "encoding":{"x":{"datum":-0.2,"type":"quantitative","axis":null},"x2":{"datum":229.6},"y":{"field":"lv","type":"quantitative","axis":null}}},
{"data":{"name":"st"},"mark":{"type":"line","strokeWidth":2},
 "encoding":{"x":{"field":"i","type":"quantitative","axis":{"orient":"bottom","values":[-0.5,22,44,64,85,105,124,144,165,186,208,230,251],"labelExpr":"datum.value < 10 ? \"'18\" : datum.value < 30 ? \"'19\" : datum.value < 50 ? 'ก.พ.' : datum.value < 70 ? 'มี.ค.' : datum.value < 95 ? 'เม.ย.' : datum.value < 115 ? 'พ.ค.' : datum.value < 134 ? 'มิ.ย.' : datum.value < 155 ? 'ก.ค.' : datum.value < 175 ? 'ส.ค.' : datum.value < 197 ? 'ก.ย.' : datum.value < 219 ? 'ต.ค.' : datum.value < 240 ? 'พ.ย.' : 'ธ.ค.'","tickSize":2,"labelPadding":0,"domain":false,"labelFontSize":8,"labelColor":"#555555","labelFont":"Noto Sans Thai, Noto Sans, DejaVu Sans, sans-serif","tickColor":"#888888","title":null}},
 "y":{"field":"v","type":"quantitative","axis":{"orient":"right","values":[0,50,100],"labelExpr":"datum.value == 0 ? '0' : format(datum.value, '.4f')","labelAlign":"right","labelPadding":81,"tickSize":3,"domain":false,"labelFontSize":13.5,"labelColor":"#333333","tickColor":"#555555","title":null}},
 "color":{"field":"s","type":"nominal","scale":{"domain":["d","k"],"range":["#d31515","#25408f"]},"legend":null}}},
{"data":{"values":[{"lv":0}]},"mark":{"type":"rule","opacity":0},
 "encoding":{"x":{"datum":0,"type":"quantitative","axis":null},"y":{"field":"lv","type":"quantitative","axis":{"orient":"left","tickCount":24,"labels":false,"tickSize":-3,"domainColor":"#000000","tickColor":"#444444","title":null}}}},
{"data":{"values":[{"t":"modified_stochastic_oscillator1(14, 3, 3, 80, 20)"}]},"mark":{"type":"text","align":"left","baseline":"alphabetic","fontSize":11,"fontWeight":"bold","font":"DejaVu Sans","color":"#000000"},
 "encoding":{"x":{"datum":-0.17,"type":"quantitative","axis":null},"y":{"datum":102.2,"type":"quantitative","axis":null},"text":{"field":"t"}}},
{"data":{"values":[{"t":"© 2019 Bisnews AFE (Thailand) Limited"}]},"mark":{"type":"text","align":"left","baseline":"alphabetic","fontSize":9,"font":"Liberation Sans","color":"#222222"},
 "encoding":{"x":{"datum":-1.5,"type":"quantitative","axis":null},"y":{"datum":-21.1,"type":"quantitative","axis":null},"text":{"field":"t"}}},
{"data":{"values":[{"t":"www.bisnews.com"}]},"mark":{"type":"text","align":"right","baseline":"alphabetic","fontSize":9,"font":"Liberation Sans","color":"#222222"},
 "encoding":{"x":{"datum":282.3,"type":"quantitative","axis":null},"y":{"datum":-21.1,"type":"quantitative","axis":null},"text":{"field":"t"}}}
]
}
]
}
